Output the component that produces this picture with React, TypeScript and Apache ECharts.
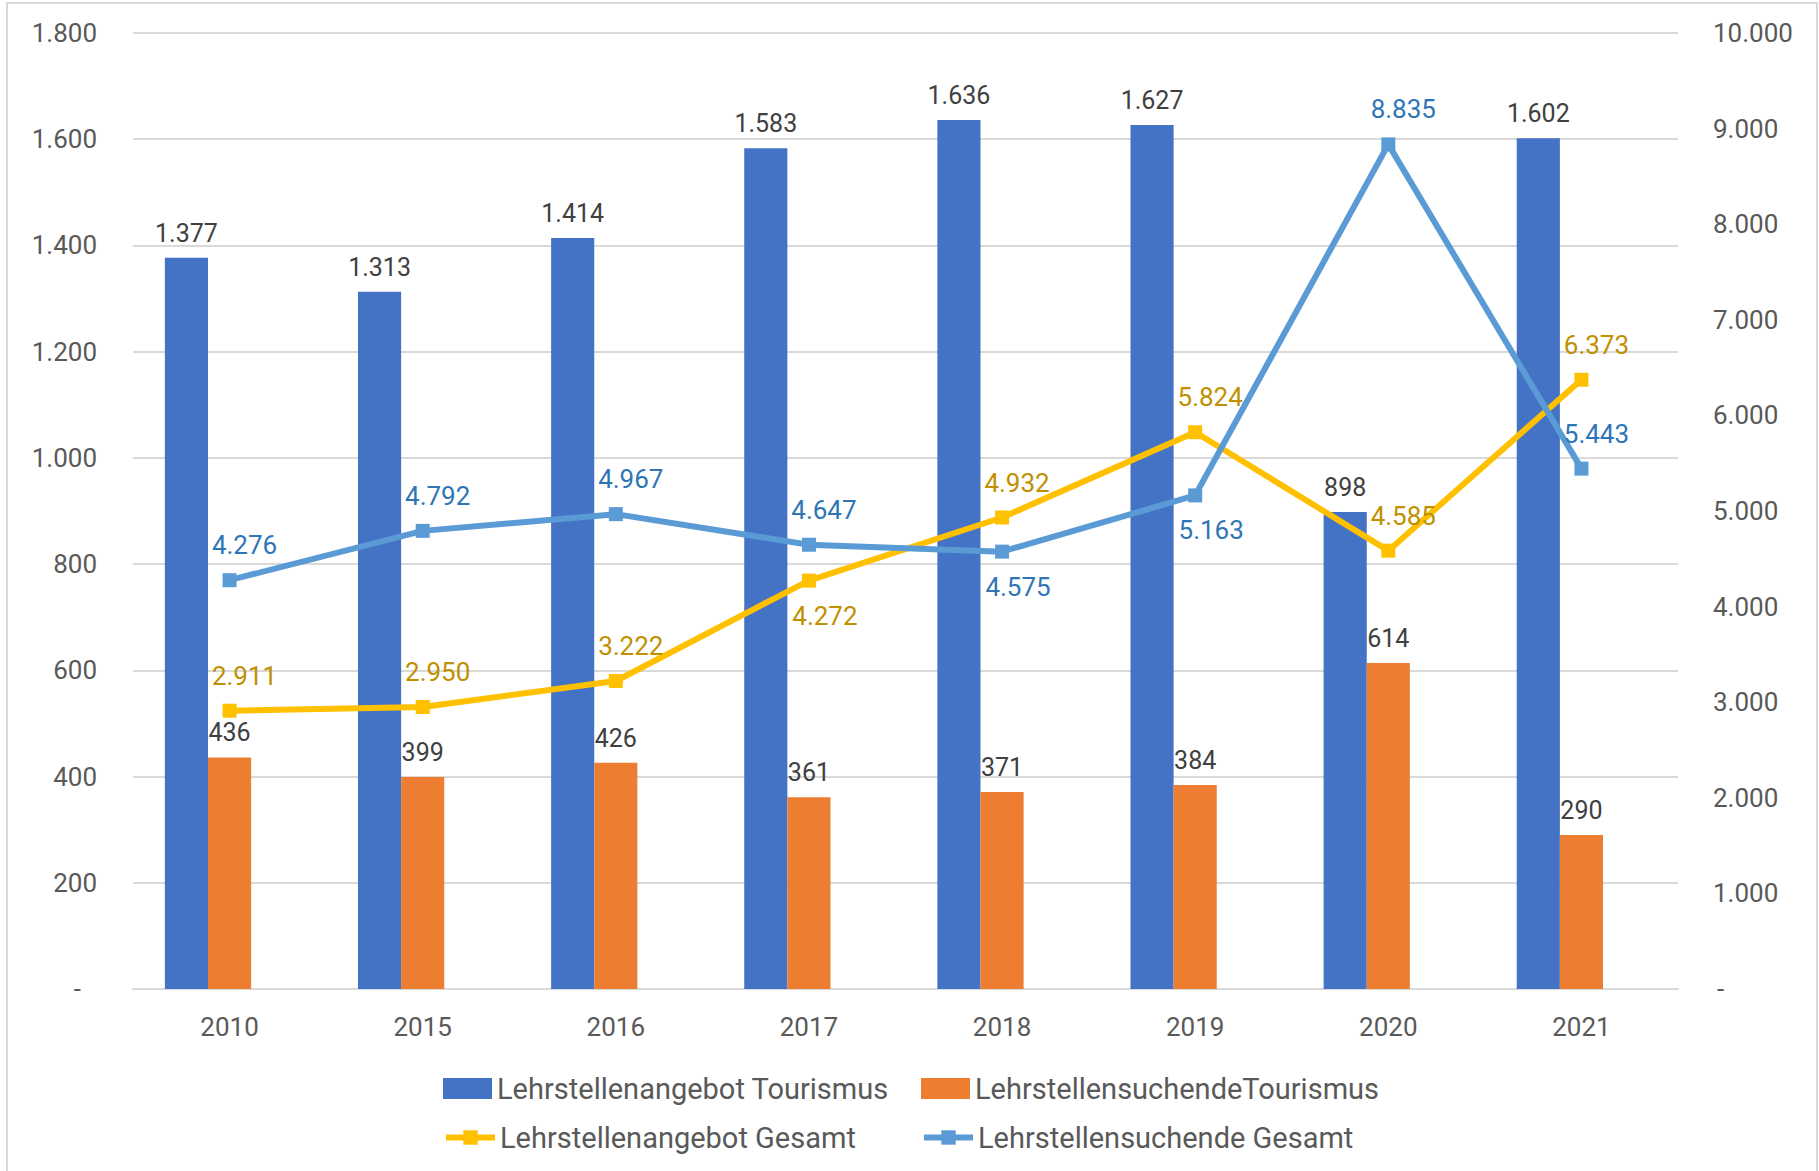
import React, { useEffect, useRef } from 'react';
import * as echarts from 'echarts';

const categories = ['2010', '2015', '2016', '2017', '2018', '2019', '2020', '2021'];
const angebotTourismus = [1377, 1313, 1414, 1583, 1636, 1627, 898, 1602];
const suchendeTourismus = [436, 399, 426, 361, 371, 384, 614, 290];
const angebotGesamt = [2911, 2950, 3222, 4272, 4932, 5824, 4585, 6373];
const suchendeGesamt = [4276, 4792, 4967, 4647, 4575, 5163, 8835, 5443];
const leftAxisRange = { min: 0, max: 1800, interval: 200 };
const rightAxisRange = { min: 0, max: 10000, interval: 1000 };
const angebotGesamtLabelSide = ['top', 'top', 'top', 'bottom', 'top', 'top', 'top', 'top'];
const suchendeGesamtLabelSide = ['top', 'top', 'top', 'top', 'bottom', 'bottom', 'top', 'top'];

const seriesNames = [
  'Lehrstellenangebot Tourismus',
  'LehrstellensuchendeTourismus',
  'Lehrstellenangebot Gesamt',
  'Lehrstellensuchende Gesamt',
];

const FONT = 'Roboto';
const fmt = (v: number) => String(v).replace(/\B(?=(\d{3})+(?!\d))/g, '.');

function lineData(values: number[], sides: string[]) {
  return values.map((v, i) => ({
    value: v,
    label: {
      position: sides[i],
      offset: sides[i] === 'top' ? [15, -10] : [16, 10],
    },
  }));
}

export default function App() {
  const ref = useRef<HTMLDivElement>(null);
  useEffect(() => {
    if (!ref.current) return;
    const chart = echarts.init(ref.current, undefined, { renderer: 'svg' });
    const legendBase = {
      orient: 'horizontal',
      itemGap: 0,
      textStyle: { fontFamily: FONT, fontSize: 29, color: '#595959' },
      selectedMode: false,
    };
    const barLabel = {
      show: true,
      position: 'top',
      distance: 12,
      color: '#404040',
      fontSize: 25,
      fontFamily: FONT,
      formatter: (p: any) => fmt(p.value),
    };
    chart.setOption({
      animation: false,
      backgroundColor: '#ffffff',
      textStyle: { fontFamily: FONT },
      graphic: [
        {
          type: 'rect',
          shape: { x: 7, y: 3, width: 1810, height: 1200 },
          style: { fill: 'none', stroke: '#D9D9D9', lineWidth: 2 },
          silent: true,
        },
      ],
      grid: { left: 133, right: 141, top: 33, bottom: 182, containLabel: false },
      legend: [
        { ...legendBase, data: [seriesNames[0]], icon: 'rect', left: 438, top: 1069, itemWidth: 49, itemHeight: 21 },
        { ...legendBase, data: [seriesNames[1]], icon: 'rect', left: 916, top: 1069, itemWidth: 49, itemHeight: 21 },
        { ...legendBase, data: [seriesNames[2]], left: 438, top: 1118, itemWidth: 49, itemHeight: 18, lineStyle: { width: 6 } },
        { ...legendBase, data: [seriesNames[3]], left: 916, top: 1118, itemWidth: 49, itemHeight: 18, lineStyle: { width: 6 } },
      ],
      xAxis: {
        type: 'category',
        data: categories,
        boundaryGap: true,
        axisLine: { show: true, lineStyle: { color: '#D9D9D9', width: 2 } },
        axisTick: { show: false },
        axisLabel: { color: '#595959', fontSize: 26, fontFamily: FONT, margin: 25 },
      },
      yAxis: [
        {
          type: 'value',
          ...leftAxisRange,
          axisLine: { show: false },
          axisTick: { show: false },
          splitLine: { lineStyle: { color: '#D9D9D9', width: 2 } },
          axisLabel: {
            color: '#595959',
            fontSize: 26,
            fontFamily: FONT,
            margin: 36,
            formatter: (v: number) => (v === 0 ? '{z|-}' : fmt(v)),
            rich: { z: { fontSize: 26, fontFamily: FONT, color: '#595959', padding: [0, 16, 0, 0] } },
          },
        },
        {
          type: 'value',
          ...rightAxisRange,
          position: 'right',
          axisLine: { show: false },
          axisTick: { show: false },
          splitLine: { show: false },
          axisLabel: {
            color: '#595959',
            fontSize: 26,
            fontFamily: FONT,
            margin: 35,
            formatter: (v: number) => (v === 0 ? '{z|-}' : fmt(v)),
            rich: { z: { fontSize: 26, fontFamily: FONT, color: '#595959', padding: [0, 0, 0, 4] } },
          },
        },
      ],
      series: [
        {
          name: seriesNames[0],
          type: 'bar',
          yAxisIndex: 0,
          data: angebotTourismus,
          barGap: '0%',
          barCategoryGap: '33%',
          itemStyle: { color: '#4472C4' },
          label: barLabel,
        },
        {
          name: seriesNames[1],
          type: 'bar',
          yAxisIndex: 0,
          data: suchendeTourismus,
          itemStyle: { color: '#ED7D31' },
          label: barLabel,
        },
        {
          // empty third bar slot, as in the source chart (keeps the bar pair left of centre)
          name: '_leer',
          type: 'bar',
          yAxisIndex: 0,
          data: categories.map(() => null),
          itemStyle: { color: 'rgba(0,0,0,0)' },
          silent: true,
        },
        {
          name: seriesNames[2],
          type: 'line',
          yAxisIndex: 1,
          data: lineData(angebotGesamt, angebotGesamtLabelSide),
          symbol: 'rect',
          symbolSize: 14,
          z: 5,
          lineStyle: { color: '#FFC000', width: 6 },
          itemStyle: { color: '#FFC000' },
          label: {
            show: true,
            distance: 5,
            color: '#BF9000',
            fontSize: 26,
            fontFamily: FONT,
            formatter: (p: any) => fmt(p.value),
          },
        },
        {
          name: seriesNames[3],
          type: 'line',
          yAxisIndex: 1,
          data: lineData(suchendeGesamt, suchendeGesamtLabelSide),
          symbol: 'rect',
          symbolSize: 14,
          z: 6,
          lineStyle: { color: '#5B9BD5', width: 6 },
          itemStyle: { color: '#5B9BD5' },
          label: {
            show: true,
            distance: 5,
            color: '#2E75B6',
            fontSize: 26,
            fontFamily: FONT,
            formatter: (p: any) => fmt(p.value),
          },
        },
      ],
    });
    return () => chart.dispose();
  }, []);
  return (
    <div
      ref={ref}
      style={{ position: 'fixed', left: 0, top: 0, width: 1819, height: 1171, background: '#fff' }}
    />
  );
}
